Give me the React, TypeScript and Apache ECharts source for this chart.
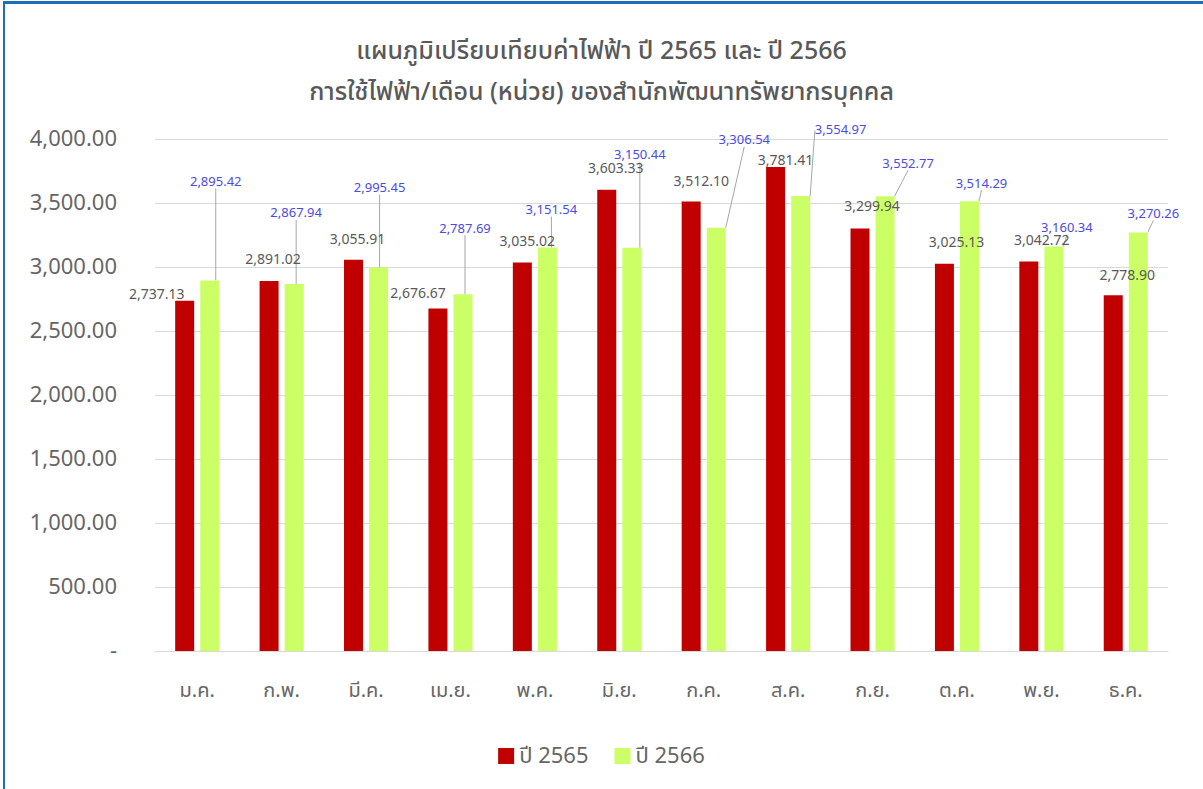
import React, { useEffect, useRef } from "react";
import * as echarts from "echarts";

const months = ["ม.ค.", "ก.พ.", "มี.ค.", "เม.ย.", "พ.ค.", "มิ.ย.", "ก.ค.", "ส.ค.", "ก.ย.", "ต.ค.", "พ.ย.", "ธ.ค."];
const y2565 = [2737.13, 2891.02, 3055.91, 2676.67, 3035.02, 3603.33, 3512.1, 3781.41, 3299.94, 3025.13, 3042.72, 2778.9];
const y2566 = [2895.42, 2867.94, 2995.45, 2787.69, 3151.54, 3150.44, 3306.54, 3554.97, 3552.77, 3514.29, 3160.34, 3270.26];

// label nudges (pixels) to mimic the original label placement
const lab65Dx = [-28, 4, 4, -20, 5, 9, 10, 10, 12, 12, 13, 14];
const lab65Dy = [1, -14, -13, -8, -14, -14, -13, 1, -15, -14, -14, -13];
const lab66Dx = [6, 2, 1, 2, 4, 8, 28, 40, 23, 12, 13, 15];
const lab66Dy = [-92, -64, -73, -59, -31, -86, -81, -59, -26, -11, -12, -12];

const FONT = "'Noto Sans Thai', 'Noto Sans', 'Open Sans', sans-serif";
const fmt = (v: number) =>
  v.toLocaleString("en-US", { minimumFractionDigits: 2, maximumFractionDigits: 2 });

export default function App() {
  const ref = useRef<HTMLDivElement>(null);
  useEffect(() => {
    if (!ref.current) return;
    const chart = echarts.init(ref.current, undefined, { renderer: "svg" });
    chart.setOption({
      animation: false,
      backgroundColor: "#ffffff",
      textStyle: { fontFamily: FONT },
      title: {
        text: "แผนภูมิเปรียบเทียบค่าไฟฟ้า ปี 2565 และ ปี 2566\nการใช้ไฟฟ้า/เดือน (หน่วย) ของสำนักพัฒนาทรัพยากรบุคคล",
        left: "center",
        top: 25,
        textStyle: {
          fontFamily: FONT,
          fontSize: 25,
          fontWeight: 500,
          color: "#595959",
          lineHeight: 41,
        },
      },
      legend: {
        bottom: 17,
        left: "center",
        itemWidth: 16,
        itemHeight: 16,
        itemGap: 26,
        icon: "rect",
        textStyle: { fontFamily: FONT, fontSize: 22, color: "#666666" },
        data: ["ปี 2565", "ปี 2566"],
      },
      grid: { left: 155, right: 35, top: 139, bottom: 138, containLabel: false },
      xAxis: {
        type: "category",
        data: months,
        axisLine: { lineStyle: { color: "#d9d9d9" } },
        axisTick: { show: false },
        axisLabel: { fontFamily: FONT, fontSize: 20, color: "#666666", margin: 30 },
      },
      yAxis: {
        type: "value",
        min: 0,
        max: 4000,
        interval: 500,
        axisLine: { show: false },
        axisTick: { show: false },
        splitLine: { lineStyle: { color: "#d9d9d9" } },
        axisLabel: {
          fontFamily: FONT,
          fontSize: 22,
          color: "#666666",
          margin: 38,
          formatter: (v: number) => (v === 0 ? "-" : fmt(v)),
        },
      },
      series: [
        {
          name: "ปี 2565",
          type: "bar",
          data: y2565,
          barWidth: 19,
          barGap: "32%",
          itemStyle: { color: "#c00000" },
          label: {
            show: true,
            position: "top",
            distance: 0,
            fontFamily: FONT,
            fontSize: 14,
            color: "#595959",
            formatter: (p: any) => fmt(p.value),
          },
          labelLayout: (p: any) => ({ dx: lab65Dx[p.dataIndex], dy: lab65Dy[p.dataIndex] }),
        },
        {
          name: "ปี 2566",
          type: "bar",
          data: y2566,
          barWidth: 19,
          itemStyle: { color: "#ccff66" },
          label: {
            show: true,
            position: "top",
            distance: 0,
            fontFamily: FONT,
            fontSize: 13,
            color: "#4b4be3",
            formatter: (p: any) => fmt(p.value),
          },
          labelLine: { show: true, lineStyle: { color: "#a6a6a6", width: 1 } },
          labelLayout: (p: any) => ({ dx: lab66Dx[p.dataIndex], dy: lab66Dy[p.dataIndex] }),
        },
      ],
    });
    return () => chart.dispose();
  }, []);
  return (
    <div style={{ position: "fixed", left: 0, top: 0, width: 1203, height: 789, background: "#fff" }}>
      <div ref={ref} style={{ position: "absolute", left: 0, top: 0, width: 1203, height: 789 }} />
      <div
        style={{
          position: "absolute",
          left: 3,
          top: 1,
          width: 1200,
          height: 788,
          borderTop: "3px solid #1f6fb8",
          borderLeft: "2px solid #1f6fb8",
          boxSizing: "border-box",
          pointerEvents: "none",
        }}
      />
    </div>
  );
}
